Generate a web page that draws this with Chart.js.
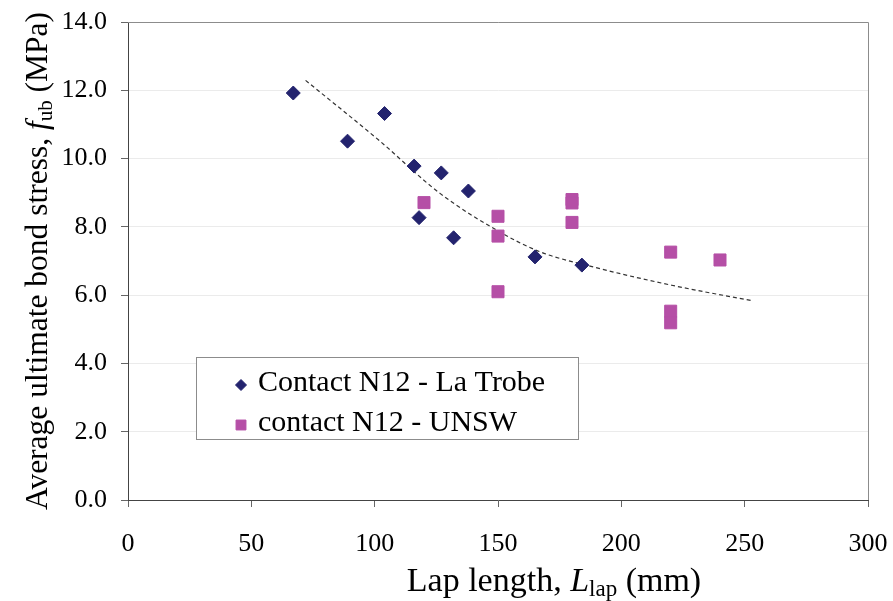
<!DOCTYPE html>
<html>
<head>
<meta charset="utf-8">
<script src="https://cdn.jsdelivr.net/npm/chart.js@4.4.0/dist/chart.umd.min.js"></script>
<style>
  html, body { margin: 0; padding: 0; background: #fff; }
  #caja { width: 893px; height: 601px; }
</style>
</head>
<body>
<div id="caja"><canvas id="GraficoLap"></canvas></div>
<script>
// datos
var laTrobeLap = [67, 89, 104, 116, 118, 127, 132, 138, 165, 184];
var laTrobeStress = [11.92, 10.51, 11.32, 9.78, 8.27, 9.58, 7.68, 9.05, 7.12, 6.88];
var unswLap = [120, 150, 150, 150, 180, 180, 180, 220, 220, 220, 240];
var unswStress = [8.71, 8.31, 7.73, 6.10, 8.80, 8.70, 8.13, 7.26, 5.53, 5.19, 7.03];
var trendLap = [72, 101.5, 126.5, 150, 167, 187.3, 220.4, 253.5];
var trendStress = [12.29, 10.55, 8.98, 7.88, 7.27, 6.85, 6.29, 5.83];
var seriesNames = ['Contact N12 - La Trobe', 'contact N12 - UNSW'];
var xTicks = [0, 50, 100, 150, 200, 250, 300];
var yTicks = [0, 2, 4, 6, 8, 10, 12, 14];

var FONT = '"Liberation Serif", "Times New Roman", serif';

function toPoints(xs, ys) {
  return xs.map(function (x, i) { return { x: x, y: ys[i] }; });
}

// escribe texto con partes en cursiva / subindice
function drawRuns(ctx, runs, cx, baseY) {
  var total = 0;
  runs.forEach(function (r) { ctx.font = r.font; r.w = ctx.measureText(r.text).width; total += r.w; });
  var x = cx - total / 2;
  ctx.textAlign = 'left';
  ctx.textBaseline = 'alphabetic';
  runs.forEach(function (r) {
    ctx.font = r.font;
    ctx.fillText(r.text, x, baseY + (r.dy || 0));
    x += r.w;
  });
}

// sin relleno extra por las etiquetas
function noPad(s) {
  s.paddingLeft = 0; s.paddingRight = 0; s.paddingTop = 0; s.paddingBottom = 0;
}

var extras = {
  id: 'extras',
  afterDraw: function (chart) {
    var ctx = chart.ctx;
    var a = chart.chartArea;
    ctx.save();
    // marco del area
    ctx.strokeStyle = '#8c8c8c';
    ctx.lineWidth = 1;
    ctx.beginPath();
    ctx.moveTo(a.left, a.top + 0.5);
    ctx.lineTo(a.right + 0.5, a.top + 0.5);
    ctx.lineTo(a.right + 0.5, a.bottom);
    ctx.stroke();

    // titulos
    ctx.fillStyle = '#000';
    drawRuns(ctx, [
      { text: 'Lap length, ', font: '34px ' + FONT },
      { text: 'L', font: 'italic 34px ' + FONT },
      { text: 'lap', font: '23px ' + FONT, dy: 5 },
      { text: ' (mm)', font: '34px ' + FONT }
    ], 554, 591);

    ctx.save();
    ctx.translate(47, 261);
    ctx.rotate(-Math.PI / 2);
    drawRuns(ctx, [
      { text: 'Average ultimate bond stress, ', font: '31.5px ' + FONT },
      { text: 'f', font: 'italic 31.5px ' + FONT },
      { text: 'ub', font: '21px ' + FONT, dy: 5 },
      { text: ' (MPa)', font: '31.5px ' + FONT }
    ], 0, 0);
    ctx.restore();

    // leyenda
    ctx.fillStyle = '#fff';
    ctx.fillRect(196.5, 357.5, 382, 82);
    ctx.strokeStyle = '#8c8c8c';
    ctx.strokeRect(196.5, 357.5, 382, 82);
    var rows = [383, 423];
    for (var i = 0; i < 2; i++) {
      var ds = chart.data.datasets[i];
      ctx.fillStyle = ds.backgroundColor;
      ctx.strokeStyle = ds.borderColor;
      Chart.helpers.drawPoint(ctx, {
        pointStyle: ds.pointStyle,
        rotation: 0,
        radius: i === 0 ? 5.5 : 7,
        borderWidth: 1
      }, 241, rows[i] + 2);
      ctx.fillStyle = '#000';
      ctx.font = '30px ' + FONT;
      ctx.textAlign = 'left';
      ctx.textBaseline = 'middle';
      ctx.fillText(seriesNames[i], 258, rows[i]);
    }
    ctx.restore();
  }
};

var ctx1 = document.getElementById('GraficoLap').getContext('2d');
var data1 = {
  datasets: [{
    label: seriesNames[0],
    data: toPoints(laTrobeLap, laTrobeStress),
    pointStyle: 'rectRot',
    pointRadius: 7,
    backgroundColor: '#23236e',
    borderColor: '#23236e',
    borderWidth: 1,
    showLine: false
  }, {
    label: seriesNames[1],
    data: toPoints(unswLap, unswStress),
    pointStyle: 'rect',
    pointRadius: 8.5,
    backgroundColor: '#b54fa6',
    borderColor: '#b54fa6',
    borderWidth: 1,
    showLine: false
  }, {
    label: 'trend',
    data: toPoints(trendLap, trendStress),
    showLine: true,
    pointRadius: 0,
    borderColor: '#333',
    borderWidth: 1.2,
    borderDash: [4, 3],
    cubicInterpolationMode: 'monotone',
    fill: false
  }]
};
var options1 = {
  responsive: true,
  maintainAspectRatio: false,
  animation: false,
  layout: { padding: { left: 0, top: 22, right: 25, bottom: 0 } },
  plugins: { legend: { display: false }, tooltip: { enabled: false } },
  scales: {
    x: {
      type: 'linear',
      min: 0, max: 300,
      afterBuildTicks: function (s) { s.ticks = xTicks.map(function (v) { return { value: v }; }); },
      afterFit: function (s) { s.height = 101; noPad(s); },
      ticks: { color: '#000', padding: 22, maxRotation: 0, font: { family: FONT, size: 26 } },
      grid: { drawOnChartArea: false, drawTicks: true, tickLength: 7, color: '#666' },
      border: { color: '#444', width: 1 }
    },
    y: {
      type: 'linear',
      min: 0, max: 14,
      afterBuildTicks: function (s) { s.ticks = yTicks.map(function (v) { return { value: v }; }); },
      afterFit: function (s) { s.width = 128; noPad(s); },
      ticks: {
        color: '#000', padding: 14, font: { family: FONT, size: 26 },
        callback: function (v) { return v.toFixed(1); }
      },
      grid: { color: '#ebebeb', tickColor: '#666', tickLength: 7, drawTicks: true },
      border: { color: '#444', width: 1 }
    }
  }
};
var GraficoLap = new Chart(ctx1, {
  type: 'scatter',
  data: data1,
  options: options1,
  plugins: [extras]
});
</script>
</body>
</html>
